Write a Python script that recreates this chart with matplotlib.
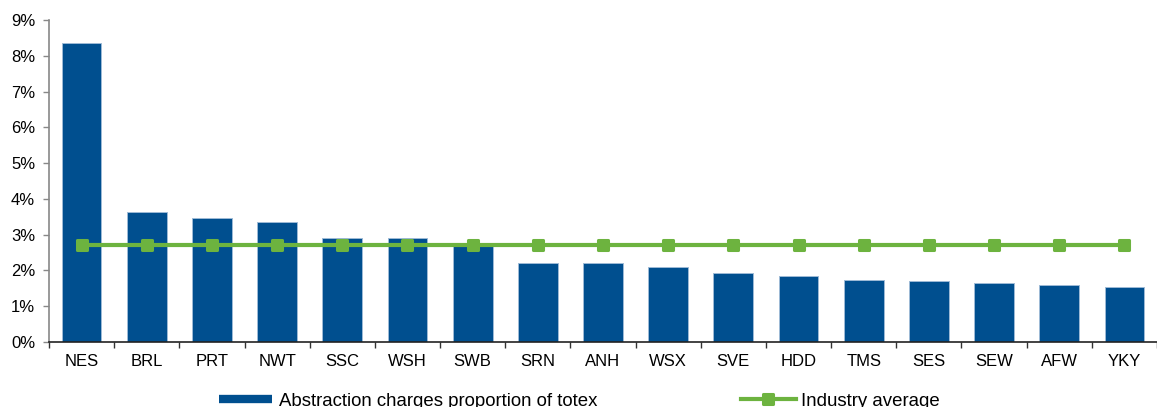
import matplotlib
matplotlib.use("Agg")
import matplotlib.pyplot as plt
from matplotlib.lines import Line2D
from matplotlib.markers import MarkerStyle
from matplotlib.ticker import FuncFormatter, FixedLocator

companies = ["NES", "BRL", "PRT", "NWT", "SSC", "WSH", "SWB", "SRN", "ANH",
             "WSX", "SVE", "HDD", "TMS", "SES", "SEW", "AFW", "YKY"]
abstraction_share = [8.35, 3.63, 3.47, 3.36, 2.91, 2.90, 2.75, 2.21, 2.20,
                     2.10, 1.92, 1.85, 1.73, 1.71, 1.66, 1.59, 1.54]
industry_average = [2.72] * len(companies)
y_ticks = [0, 1, 2, 3, 4, 5, 6, 7, 8, 9]

bar_label = "Abstraction charges proportion of totex"
line_label = "Industry average"

BLUE = "#004F8F"
GREEN = "#6DB33F"

plt.rcParams["font.family"] = ["Liberation Sans", "DejaVu Sans"]
plt.rcParams["font.size"] = 12

W, H = 1157, 407
fig = plt.figure(figsize=(W / 100, H / 100), dpi=100)
ax = fig.add_axes([49 / W, (H - 342) / H, (W - 49) / W, 322 / H])

x = list(range(len(companies)))
ax.bar(x, abstraction_share, width=0.61, color=BLUE,
       edgecolor="#9DBAD6", linewidth=0.7, zorder=2)

sq = MarkerStyle("s", joinstyle="round")
ax.plot(x, industry_average, color=GREEN, linewidth=3.0, marker=sq,
        markersize=6.5, markeredgewidth=2.2, markeredgecolor=GREEN,
        markerfacecolor=GREEN, zorder=3)

ax.set_ylim(0, 9)
ax.set_xlim(-0.5, -0.5 + (W - 49) / 65.75)
ax.yaxis.set_major_locator(FixedLocator(y_ticks))
ax.yaxis.set_major_formatter(FuncFormatter(lambda v, p: f"{v:.0f}%"))

ax.set_xticks(x)
ax.set_xticklabels(companies)
ax.set_xticks([i - 0.5 for i in range(len(companies) + 1)], minor=True)
ax.tick_params(axis="x", which="major", length=0, pad=9)
ax.tick_params(axis="x", which="minor", length=4, width=1.0, color="#333333",
               direction="out")
ax.tick_params(axis="y", length=4, width=1.0, color="#888888",
               direction="out", pad=6)

for side in ("top", "right"):
    ax.spines[side].set_visible(False)
ax.spines["left"].set_color("#888888")
ax.spines["left"].set_linewidth(1.2)
ax.spines["bottom"].set_color("#222222")
ax.spines["bottom"].set_linewidth(1.2)

bar_handle = Line2D([], [], color=BLUE, linewidth=6, solid_capstyle="butt")
line_handle = Line2D([], [], color=GREEN, linewidth=3.0, marker=sq,
                     markersize=6.5, markeredgewidth=2.2,
                     markeredgecolor=GREEN, markerfacecolor=GREEN)

legend_y = (H - 401) / H
fig.legend([bar_handle], [bar_label], loc="center left",
           bbox_to_anchor=(219 / W, legend_y), frameon=False,
           borderpad=0, borderaxespad=0, handlelength=2.85,
           handletextpad=0.35, fontsize=13.4)
fig.legend([line_handle], [line_label], loc="center left",
           bbox_to_anchor=(741 / W, legend_y), frameon=False,
           borderpad=0, borderaxespad=0, handlelength=2.95,
           handletextpad=0.3, fontsize=13.4)

fig.savefig("out.png", dpi=100)
